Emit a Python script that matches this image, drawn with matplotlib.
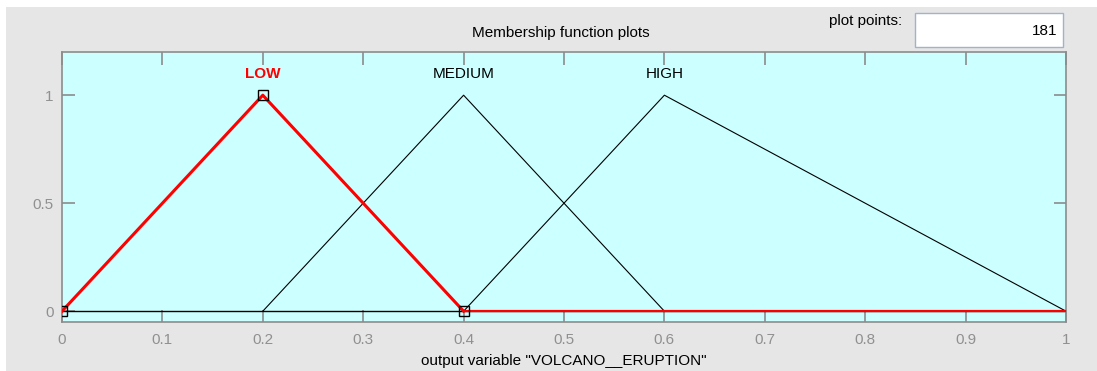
import matplotlib.pyplot as plt
from matplotlib.patches import Rectangle

plt.rcParams["font.family"] = ["Liberation Sans", "DejaVu Sans"]

# membership functions of the output variable (triangular: a, b, c)
mf_names = ["LOW", "MEDIUM", "HIGH"]
mf_params = [[0.0, 0.2, 0.4], [0.2, 0.4, 0.6], [0.4, 0.6, 1.0]]
selected = "LOW"
x_ticks = [0, 0.1, 0.2, 0.3, 0.4, 0.5, 0.6, 0.7, 0.8, 0.9, 1]
y_ticks = [0, 0.5, 1]
plot_points = 181

FS = 11
W, H = 1097, 371
fig = plt.figure(figsize=(W / 100, H / 100), dpi=100, facecolor="white")

# gray window panel
fig.patches.append(Rectangle((6 / W, 0), 1 - 6 / W, 1 - 7 / H, transform=fig.transFigure,
                             facecolor="#e6e6e6", edgecolor="none", zorder=-10))

ax = fig.add_axes([62 / W, (H - 322) / H, (1066 - 62) / W, (322 - 52) / H])
ax.set_facecolor("#ccffff")
ax.set_xlim(0, 1)
ax.set_ylim(-0.05, 1.2)

gray = "#8c8c8c"
for s in ax.spines.values():
    s.set_color(gray)
    s.set_linewidth(1.2)
ax.set_xticks(x_ticks)
ax.set_xticklabels([f"{t:g}" for t in x_ticks])
ax.set_yticks(y_ticks)
ax.set_yticklabels([f"{t:g}" for t in y_ticks])
ax.tick_params(direction="in", length=9, width=1.2, color=gray, labelcolor="#909090",
               labelsize=FS, top=True, right=True)
ax.tick_params(axis="x", pad=8)
ax.tick_params(axis="y", pad=6)

# baseline
ax.plot([0, 1], [0, 0], color="black", lw=1, zorder=2)

for name, (a, b, c) in zip(mf_names, mf_params):
    xs = [a, b, c]
    ys = [0, 1, 0]
    if name == selected:
        ax.plot(xs, ys, color="red", lw=2.2, zorder=4)
        ax.plot([c, 1.0], [0, 0], color="red", lw=1.6, zorder=4)
        ax.plot(xs, ys, ls="none", marker="s", ms=7, mfc="none", mec="black",
                mew=1, zorder=5)
        ax.text(b, 1.1, name, color="red", fontweight="bold", fontsize=FS,
                ha="center", va="center")
    else:
        ax.plot(xs, ys, color="black", lw=0.8, zorder=3)
        ax.text(b, 1.1, name, color="black", fontsize=FS,
                ha="center", va="center")

fig.text(561 / W, 1 - 33 / H, "Membership function plots", fontsize=FS,
         ha="center", va="center")
ax.set_xlabel('output variable "VOLCANO__ERUPTION"', fontsize=FS, labelpad=5)

# plot points box
fig.text(902 / W, 1 - 21 / H, "plot points:", fontsize=FS, ha="right", va="center")
fig.patches.append(Rectangle((915 / W, 1 - 47 / H), (1063 - 915) / W, 34 / H,
                             transform=fig.transFigure, facecolor="white",
                             edgecolor="#a0b4c8", lw=1, zorder=1))
fig.text(1057 / W, 1 - 31 / H, str(plot_points), fontsize=FS, ha="right", va="center")

fig.savefig("out.png", dpi=100)
